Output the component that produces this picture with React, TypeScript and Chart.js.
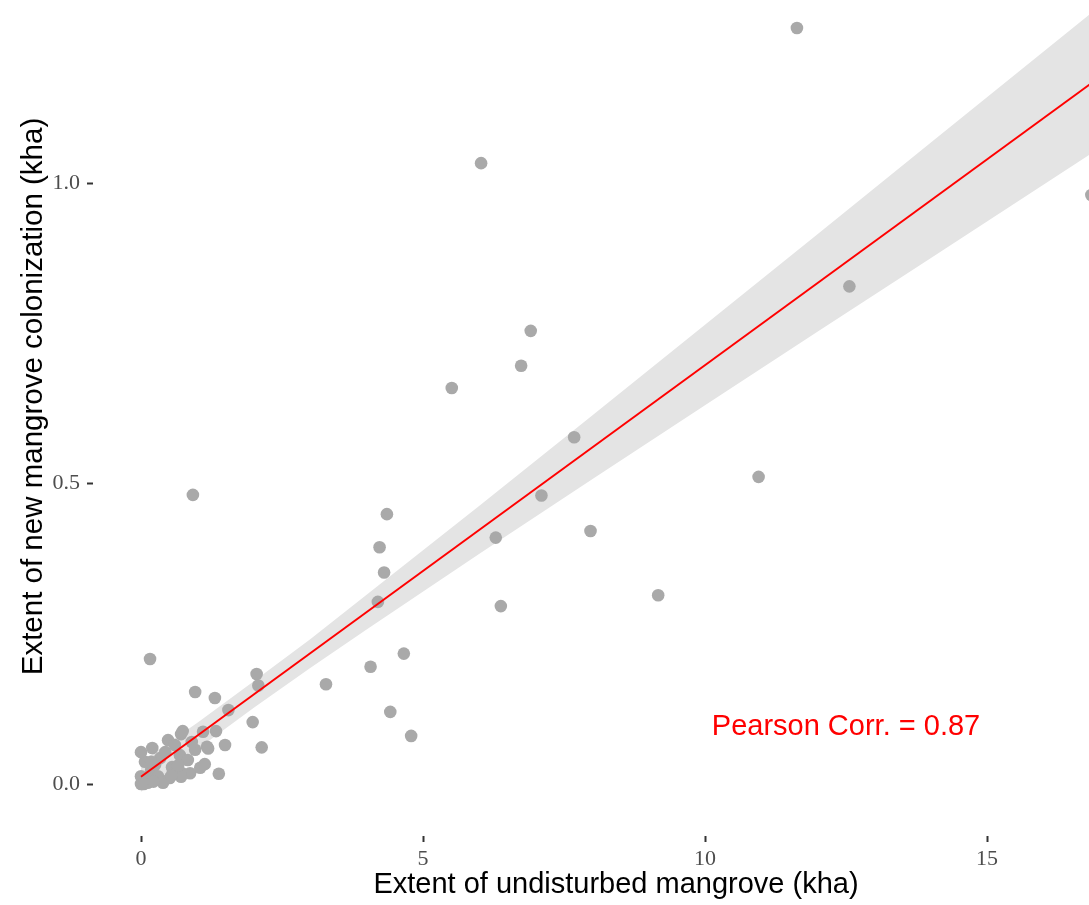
import React, { useEffect, useRef } from 'react';
import { Chart, registerables } from 'chart.js';

Chart.register(...registerables);

// Observations: extent of undisturbed mangrove (kha) vs new colonization (kha)
const undisturbedKha = [
  11.63, 6.03, 16.85, 12.56, 6.91, 6.74, 5.51, 7.68, 7.10, 10.95,
  4.36, 0.92, 7.97, 6.29, 4.23, 4.31, 4.20, 6.38, 9.17, 0.16,
  4.66, 4.07, 3.28, 2.05, 2.08, 0.96, 4.42, 1.55, 1.31, 1.98,
  4.79, 2.14, 1.38,
  0.00, 0.02, 0.12, 0.00, 0.07, 0.00, 0.20, 0.18, 0.30, 0.39,
  0.34, 0.48, 0.55, 0.69, 0.71, 0.74, 0.73, 0.87, 0.83, 0.96,
  1.05, 1.10, 1.17, 1.13, 1.33, 1.49, 0.43, 0.60, 0.25, 0.11,
  0.51, 0.90, 0.64, 0.05, 0.22, 0.71, 0.54, 0.18, 0.66, 1.19,
];
const colonizationKha = [
  1.258, 1.033, 0.980, 0.828, 0.754, 0.696, 0.659, 0.577, 0.480, 0.511,
  0.449, 0.481, 0.421, 0.410, 0.394, 0.352, 0.303, 0.296, 0.314, 0.208,
  0.217, 0.195, 0.166, 0.183, 0.164, 0.153, 0.120, 0.123, 0.143, 0.103,
  0.080, 0.061, 0.017,
  0.000, 0.005, 0.002, 0.013, 0.037, 0.053, 0.060, 0.023, 0.013, 0.002,
  0.043, 0.073, 0.028, 0.048, 0.083, 0.088, 0.018, 0.018, 0.040, 0.057,
  0.027, 0.087, 0.062, 0.033, 0.088, 0.065, 0.053, 0.065, 0.032, 0.010,
  0.010, 0.070, 0.020, 0.000, 0.004, 0.012, 0.014, 0.037, 0.031, 0.059,
];

// Fitted regression line (endpoints)
const fitX = [0, 16.85];
const fitY = [0.012, 1.166];

// Confidence band
const bandX = [0, 1, 2, 3, 4, 6, 8, 10, 12, 14, 16.85];
const bandUpper = [0.037, 0.102, 0.171, 0.241, 0.315, 0.463, 0.613, 0.764, 0.915, 1.067, 1.283];
const bandLower = [-0.013, 0.058, 0.127, 0.193, 0.257, 0.383, 0.507, 0.630, 0.753, 0.875, 1.049];

const xTickValues = [0, 5, 10, 15];
const xTickLabels = ['0', '5', '10', '15'];
const yTickValues = [0, 0.5, 1.0];
const yTickLabels = ['0.0', '0.5', '1.0'];

const xTitle = 'Extent of undisturbed mangrove (kha)';
const yTitle = 'Extent of new mangrove colonization (kha)';
const annotationText = 'Pearson Corr. = 0.87';
const annotationX = 12.5;
const annotationY = 0.095;

const CANVAS_W = 1150;
const OFFSET_TOP = 54;
const CANVAS_H = 905 + OFFSET_TOP;

const annotationPlugin = {
  id: 'pearsonAnnotation',
  afterDatasetsDraw(chart: any) {
    const { ctx, scales } = chart;
    const px = scales.x.getPixelForValue(annotationX);
    const py = scales.y.getPixelForValue(annotationY);
    ctx.save();
    ctx.font = '29px "Liberation Sans", Arial, sans-serif';
    ctx.fillStyle = '#FF0000';
    ctx.textAlign = 'center';
    ctx.textBaseline = 'middle';
    ctx.fillText(annotationText, px, py);
    ctx.restore();
  },
};

export default function App() {
  const ref = useRef<HTMLCanvasElement>(null);

  useEffect(() => {
    if (!ref.current) return;
    const points = undisturbedKha.map((x, i) => ({ x, y: colonizationKha[i] }));
    const fitLine = fitX.map((x, i) => ({ x, y: fitY[i] }));
    const upper = bandX.map((x, i) => ({ x, y: bandUpper[i] }));
    const lower = bandX.map((x, i) => ({ x, y: bandLower[i] }));

    const tickFont = { family: "'Liberation Serif', 'Times New Roman', serif", size: 22 };

    const chart = new Chart(ref.current, {
      type: 'scatter',
      data: {
        datasets: [
          {
            type: 'line',
            data: fitLine,
            borderColor: '#FF0000',
            borderWidth: 2,
            pointRadius: 0,
            fill: false,
            order: 0,
          } as any,
          {
            type: 'scatter',
            data: points,
            backgroundColor: '#a9a9a9',
            borderWidth: 0,
            pointRadius: 6.3,
            order: 1,
          } as any,
          {
            type: 'line',
            data: upper,
            borderWidth: 0,
            borderColor: 'rgba(0,0,0,0)',
            backgroundColor: '#e4e4e4',
            pointRadius: 0,
            fill: '+1',
            order: 2,
          } as any,
          {
            type: 'line',
            data: lower,
            borderWidth: 0,
            borderColor: 'rgba(0,0,0,0)',
            pointRadius: 0,
            fill: false,
            order: 3,
          } as any,
        ],
      },
      options: {
        responsive: false,
        maintainAspectRatio: false,
        devicePixelRatio: 1,
        animation: false,
        events: [],
        layout: { padding: { left: 0, right: 11, top: 11, bottom: 0 } },
        plugins: {
          legend: { display: false },
          tooltip: { enabled: false },
        },
        scales: {
          x: {
            type: 'linear',
            min: -0.8511,
            max: 17.695,
            afterBuildTicks: (s: any) => {
              s.ticks = xTickValues.map((v) => ({ value: v }));
            },
            afterFit: (s: any) => {
              s.height = 69;
              s.paddingLeft = 0;
              s.paddingRight = 0;
            },
            grid: {
              display: true,
              drawOnChartArea: false,
              drawTicks: true,
              tickLength: 6,
              tickWidth: 2,
              tickColor: '#333333',
            },
            border: { display: false },
            ticks: {
              autoSkip: false,
              maxRotation: 0,
              padding: 4,
              color: '#4d4d4d',
              font: tickFont,
              callback: (_v: any, i: number) => xTickLabels[i],
            },
            title: {
              display: true,
              text: xTitle,
              color: '#000000',
              font: { family: "'Liberation Sans', Arial, sans-serif", size: 29, lineHeight: 1.2 },
              padding: { top: 0, bottom: 2.6 },
            },
          },
          y: {
            type: 'linear',
            min: -0.08652,
            max: 1.37604,
            afterBuildTicks: (s: any) => {
              s.ticks = yTickValues.map((v) => ({ value: v }));
            },
            afterFit: (s: any) => {
              s.width = 93;
              s.paddingTop = 0;
              s.paddingBottom = 0;
            },
            grid: {
              display: true,
              drawOnChartArea: false,
              drawTicks: true,
              tickLength: 6,
              tickWidth: 2,
              tickColor: '#333333',
            },
            border: { display: false },
            ticks: {
              autoSkip: false,
              padding: 7,
              color: '#4d4d4d',
              font: tickFont,
              callback: (_v: any, i: number) => yTickLabels[i],
            },
            title: {
              display: true,
              text: yTitle,
              color: '#000000',
              font: { family: "'Liberation Sans', Arial, sans-serif", size: 29.5, lineHeight: 1.2 },
              padding: { top: 16, bottom: 0 },
            },
          },
        },
      } as any,
      plugins: [annotationPlugin],
    });
    return () => chart.destroy();
  }, []);

  return (
    <div
      style={{
        position: 'fixed',
        left: 0,
        top: 0,
        width: 1089,
        height: 905,
        overflow: 'hidden',
        background: '#ffffff',
      }}
    >
      <canvas
        ref={ref}
        width={CANVAS_W}
        height={CANVAS_H}
        style={{ position: 'absolute', left: 0, top: -OFFSET_TOP, width: CANVAS_W, height: CANVAS_H }}
      />
    </div>
  );
}
